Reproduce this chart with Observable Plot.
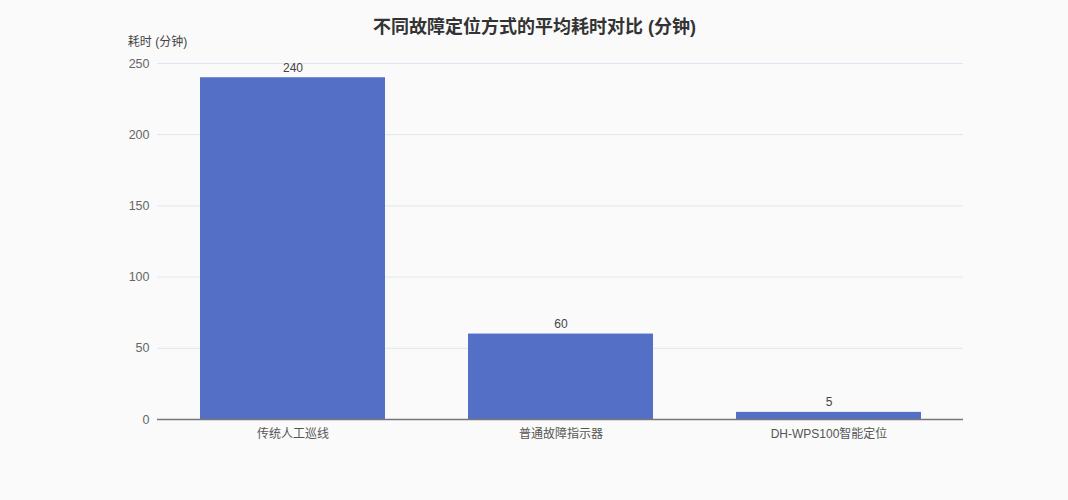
<!DOCTYPE html>
<html>
<head>
<meta charset="utf-8">
<script src="https://cdn.jsdelivr.net/npm/d3@7"></script>
<script src="https://cdn.jsdelivr.net/npm/@observablehq/plot@0.6"></script>
<style>
  html, body { margin: 0; padding: 0; background: #fafafa; }
  #chart { width: 1068px; height: 500px; }
  svg { font-family: "Liberation Sans", "Noto Sans CJK SC", sans-serif; }
</style>
</head>
<body>
<div id="chart"></div>
<script>
const title = "不同故障定位方式的平均耗时对比 (分钟)";
const yAxisName = "耗时 (分钟)";
const categories = ["传统人工巡线", "普通故障指示器", "DH-WPS100智能定位"];
const values = [240, 60, 5];
const yTicks = [0, 50, 100, 150, 200, 250];

const data = categories.map((c, i) => ({category: c, value: values[i]}));

const chart = Plot.plot({
  width: 1068,
  height: 500,
  marginLeft: 157,
  marginRight: 105,
  marginTop: 63,
  marginBottom: 81,
  style: {background: "transparent", fontSize: "12px", fontFamily: '"Liberation Sans", "Noto Sans CJK SC", sans-serif'},
  x: {domain: categories, paddingInner: 0.31, paddingOuter: 0.155, label: null},
  y: {domain: [0, 250], label: null},
  marks: [
    Plot.gridY(yTicks, {stroke: "#e0e6f1", strokeOpacity: 1}),
    Plot.axisY(yTicks, {tickSize: 0, tickPadding: 8, fill: "#666", fontSize: 12.5, label: null}),
    Plot.axisX({tickSize: 0, tickPadding: 10, fill: "#555", fontSize: 12, label: null}),
    Plot.barY(data, {x: "category", y: "value", fill: "#5470c6"}),
    Plot.ruleY([0], {stroke: "#777", strokeWidth: 1.5}),
    Plot.text(data, {x: "category", y: "value", text: d => String(d.value), dy: -10, fill: "#444", fontSize: 12}),
    Plot.text([title], {frameAnchor: "top", lineAnchor: "middle", dx: -26, dy: -36, fontSize: 18, fontWeight: "bold", fill: "#333"}),
    Plot.text([yAxisName], {frameAnchor: "top-left", lineAnchor: "middle", dy: -21, textAnchor: "middle", fontSize: 12, fill: "#444"})
  ]
});
document.getElementById("chart").appendChild(chart);
</script>
</body>
</html>
